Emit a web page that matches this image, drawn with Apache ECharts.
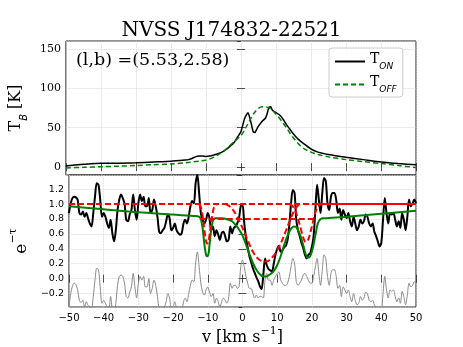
<!DOCTYPE html>
<html>
<head>
<meta charset="utf-8">
<script src="https://cdn.jsdelivr.net/npm/echarts@6/dist/echarts.min.js"></script>
<style>
  html, body { margin: 0; padding: 0; background: #fff; }
  #main { width: 463px; height: 347px; }
</style>
</head>
<body>
<div id="main"></div>
<script>
// emission spectrum (top panel)
var vOn = [-50, -45, -40, -35, -30, -25, -20, -16, -15, -14, -13, -12, -11, -10, -9, -8, -6, -5, -4, -3, -2, -1, 0, 0.5, 1, 1.5, 2, 2.5, 3, 3.5, 4, 4.5, 5, 6, 7, 7.5, 8, 8.5, 9, 10, 11, 12, 13, 14, 15, 16, 17, 18, 20, 22, 25, 30, 35, 40, 45, 50];
var tOn = [1.5, 3.5, 5, 5, 5.5, 6.5, 7.5, 9, 9.5, 11, 13, 14, 14, 13.5, 14, 15, 18, 20, 23, 27, 31, 38, 45, 53, 61, 66, 69, 63, 54, 45, 44, 48, 52, 58, 62, 68, 76, 76.5, 72, 69, 66.5, 61, 54, 48, 42, 37, 33, 29.5, 23, 19, 16, 12.5, 9.5, 6.5, 4.5, 3];
var vOff = [-50, -45, -40, -35, -30, -25, -20, -15, -12, -10, -8, -6, -4, -2, 0, 1, 2, 3, 4, 5, 6, 7, 8, 9, 10, 11, 12, 13, 14, 15, 16, 17, 18, 20, 22, 25, 30, 35, 40, 45, 50];
var tOff = [-1, -0.3, 0.5, 1.2, 2, 3, 4, 6, 7.5, 9, 12, 17, 24, 32, 40, 47, 55, 63, 70, 74.5, 76.5, 76.5, 75, 72, 67, 62, 56, 50, 43, 37, 31.5, 27, 23.5, 19, 16, 13, 9.5, 7, 4.5, 2, -0.5];

// absorption spectrum (bottom panel), channels every 0.5 km/s from -50 to 50
var chanStart = -50, chanStep = 0.5;
var expTau = [
  0.88, 1.01, 1.08, 1.10, 1.09, 1.06, 0.88, 0.86, 0.90, 0.83, 0.88, 0.81, 0.74, 0.70, 0.88, 1.10, 1.28, 1.26, 1.06, 0.83,
  0.88, 0.83, 0.74, 0.68, 0.79, 0.61, 0.50, 0.65, 0.92, 1.06, 1.13, 1.08, 1.01, 0.79, 0.77, 0.86, 0.92, 1.13, 0.92, 0.79,
  1.01, 1.13, 1.04, 1.10, 0.97, 0.97, 1.08, 0.88, 0.92, 1.06, 0.97, 0.83, 0.63, 0.61, 0.65, 0.68, 0.77, 0.86, 0.81, 0.65,
  0.68, 0.74, 0.65, 0.61, 0.59, 0.61, 0.74, 0.79, 0.74, 0.83, 0.97, 1.04, 1.01, 1.28, 1.39, 1.15, 0.88, 0.79, 0.74, 0.79,
  0.88, 0.81, 0.65, 0.70, 0.57, 0.65, 0.59, 0.52, 0.61, 0.63, 0.57, 0.50, 0.52, 0.70, 0.61, 0.68, 0.70, 0.74, 0.81, 0.97,
  0.99, 0.75, 0.55, 0.42, 0.30, 0.22, 0.14, 0.08, 0.02, -0.03, -0.10, -0.14, 0.05, 0.27, 0.18, 0.13, 0.11, 0.10, 0.20, 0.32,
  0.40, 0.44, 0.36, 0.38, 0.42, 0.44, 0.52, 0.72, 1.01, 1.19, 1.15, 0.79, 0.65, 0.57, 0.48, 0.41, 0.32, 0.27, 0.32, 0.34,
  0.43, 0.57, 0.92, 1.26, 1.06, 0.88, 1.15, 1.35, 1.31, 1.01, 0.92, 1.10, 1.15, 1.15, 1.06, 0.88, 0.94, 0.79, 0.92, 0.86,
  0.81, 0.88, 0.77, 0.70, 0.83, 0.74, 0.65, 0.70, 0.79, 0.74, 0.77, 0.86, 0.83, 0.74, 0.70, 0.74, 0.63, 0.57, 0.50, 0.43,
  0.48, 0.79, 1.08, 0.88, 0.74, 0.88, 0.86, 0.88, 0.79, 0.70, 0.77, 0.68, 0.88, 0.79, 0.65, 0.83, 1.06, 0.97, 1.01, 1.06,
  1.01
];
var resid = [
  -0.38, -0.20, -0.10, -0.06, -0.08, -0.15, -0.29, -0.32, -0.29, -0.38, -0.31, -0.36, -0.38, -0.40, -0.24, -0.02, 0.14, 0.12, -0.11, -0.33,
  -0.29, -0.33, -0.38, -0.40, -0.24, -0.42, -0.47, -0.33, -0.09, 0.03, 0.05, 0.03, -0.06, -0.24, -0.26, -0.18, -0.11, 0.07, -0.11, -0.26,
  -0.06, 0.03, -0.02, 0.03, -0.11, -0.11, 0.00, -0.20, -0.13, -0.02, -0.09, -0.24, -0.42, -0.47, -0.42, -0.38, -0.31, -0.20, -0.26, -0.40,
  -0.38, -0.31, -0.40, -0.44, -0.47, -0.44, -0.31, -0.26, -0.31, -0.20, -0.09, -0.02, -0.04, 0.21, 0.36, 0.16, -0.06, -0.18, -0.22, -0.15,
  -0.11, -0.18, -0.24, -0.20, -0.33, -0.26, -0.31, -0.38, -0.31, -0.26, -0.29, -0.33, -0.26, -0.06, -0.13, -0.09, -0.09, -0.13, -0.11, 0.16,
  0.25, 0.16, 0.03, -0.06, -0.13, -0.13, -0.20, -0.26, -0.22, -0.26, -0.24, -0.24, -0.26, -0.02, 0.07, -0.02, -0.02, -0.09, -0.02, 0.03,
  0.07, 0.09, -0.02, -0.06, -0.09, -0.09, -0.06, 0.03, 0.16, 0.27, 0.21, -0.04, -0.09, -0.06, -0.02, 0.05, 0.07, 0.03, -0.02, -0.06,
  -0.06, 0.03, 0.16, 0.27, 0.07, -0.09, 0.12, 0.32, 0.27, 0.03, -0.09, 0.07, 0.12, 0.12, 0.03, -0.13, -0.09, -0.24, -0.11, -0.15,
  -0.20, -0.15, -0.24, -0.31, -0.20, -0.29, -0.35, -0.33, -0.24, -0.29, -0.26, -0.18, -0.20, -0.29, -0.31, -0.29, -0.35, -0.40, -0.47, -0.51,
  -0.47, -0.20, 0.03, -0.15, -0.26, -0.15, -0.17, -0.15, -0.24, -0.31, -0.26, -0.33, -0.17, -0.24, -0.35, -0.22, -0.06, -0.11, -0.09, -0.04,
  -0.06
];

// total Gaussian fit (green)
var vFit = [-50, -40, -30, -20, -14, -12.5, -12, -11.5, -11, -10.5, -10.2, -9.8, -9.5, -9, -8.5, -8, -6, -4, -3, -2, -1, 0, 1, 2, 3, 4, 5, 6, 7, 8, 9, 10, 11, 12, 13, 14, 14.8, 15.5, 16.5, 17.5, 18.2, 18.8, 19.5, 20.2, 21, 21.7, 22.5, 23.5, 30, 40, 50];
var fitVals = [0.97, 0.93, 0.89, 0.86, 0.84, 0.83, 0.80, 0.68, 0.47, 0.32, 0.30, 0.33, 0.45, 0.66, 0.78, 0.81, 0.81, 0.79, 0.77, 0.72, 0.66, 0.58, 0.46, 0.33, 0.21, 0.12, 0.06, 0.03, 0.03, 0.06, 0.10, 0.18, 0.30, 0.45, 0.58, 0.67, 0.70, 0.69, 0.60, 0.45, 0.33, 0.28, 0.30, 0.40, 0.58, 0.74, 0.80, 0.81, 0.83, 0.87, 0.91];

// single components (red dashed)
var vComp1 = [-12.5, -12, -11.5, -11, -10.5, -10.2, -9.8, -9.3, -8.8, -8.3, -7.7, -7];
var comp1 = [1.0, 0.96, 0.85, 0.66, 0.50, 0.47, 0.50, 0.65, 0.82, 0.94, 0.99, 1.0];
var vComp2 = [-5, -4, -3, -2, -1, 0, 1, 2, 3, 4, 5, 6, 7, 8, 9, 10, 11, 12, 13, 14, 15, 16, 17];
var comp2 = [1.0, 0.98, 0.94, 0.87, 0.78, 0.68, 0.57, 0.46, 0.36, 0.29, 0.25, 0.23, 0.23, 0.26, 0.31, 0.38, 0.47, 0.58, 0.70, 0.82, 0.92, 0.98, 1.0];
var vComp3 = [13.5, 14.5, 15.5, 16.5, 17.5, 18.2, 19, 20, 21, 22, 23];
var comp3 = [1.0, 0.97, 0.88, 0.72, 0.55, 0.49, 0.53, 0.70, 0.89, 0.98, 1.0];
var vShelf = [-12.3, 20.9];
var shelf = [0.8, 0.8];
var vUnity = [-50, 50];
var unity = [1.0, 1.0];
var vUnitySolid = [20.5, 50];

var titleText = 'NVSS J174832-22521';
var posText = '(l,b) =(5.53,2.58)';

function zip(xs, ys) {
  return xs.map(function (x, i) { return [x, ys[i]]; });
}
var chanData = function (vals) {
  return vals.map(function (y, i) { return [chanStart + i * chanStep, y]; });
};
function minusFmt(s) { return s.replace('-', '\u2212'); }

var grid = { color: '#cfcfcf', type: 'dotted', width: 0.8 };
var tick = { inside: true, length: 4, lineStyle: { color: '#222', width: 0.8 } };

function xAx(gi, pos, labels) {
  return {
    type: 'value', gridIndex: gi, position: pos, min: -50, max: 50, interval: 10,
    axisLine: { show: false }, axisTick: tick,
    splitLine: { show: pos === 'bottom', lineStyle: grid },
    axisLabel: {
      show: labels, margin: 6, color: '#000', fontFamily: 'DejaVu Sans', fontSize: 10,
      formatter: function (v) { return minusFmt(String(v)); }
    },
    name: labels ? '{m|v [km s}{p|\u22121}{m|]}' : '',
    nameLocation: 'middle', nameGap: 19,
    nameTextStyle: {
      rich: {
        m: { fontFamily: 'DejaVu Serif', fontSize: 16, color: '#000', verticalAlign: 'bottom', lineHeight: 20 },
        p: { fontFamily: 'DejaVu Serif', fontSize: 11, color: '#000', verticalAlign: 'top', lineHeight: 20 }
      }
    }
  };
}

var chart = echarts.init(document.getElementById('main'), null, { renderer: 'canvas' });
var option = {
  animation: false,
  backgroundColor: '#fff',
  title: {
    text: titleText, left: 'center', top: 16,
    textStyle: { fontFamily: 'DejaVu Serif', fontSize: 20, fontWeight: 'normal', color: '#000' }
  },
  grid: [
    { left: 58, top: 41, width: 358, height: 134, show: true, borderColor: '#222', borderWidth: 1, backgroundColor: 'transparent' },
    { left: 58, top: 175, width: 358, height: 132, show: true, borderColor: '#222', borderWidth: 1, backgroundColor: 'transparent' }
  ],
  legend: {
    data: ['TON', 'TOFF'], orient: 'vertical', left: 329, top: 48,
    itemWidth: 30, itemHeight: 12, itemGap: 4, padding: [4, 6, 3, 5],
    itemStyle: { opacity: 0 },
    backgroundColor: 'rgba(255,255,255,0.85)', borderColor: '#cccccc', borderWidth: 1, borderRadius: 3,
    formatter: function (n) { return n === 'TON' ? '{m|T}{s|ON}' : '{m|T}{s|OFF}'; },
    textStyle: {
      rich: {
        m: { fontFamily: 'DejaVu Serif', fontSize: 14, color: '#000', verticalAlign: 'top', lineHeight: 19 },
        s: { fontFamily: 'DejaVu Sans', fontStyle: 'italic', fontSize: 9, color: '#000', verticalAlign: 'bottom', lineHeight: 19 }
      }
    }
  },
  graphic: [
    { type: 'text', left: 76, top: 51, style: { text: posText, font: '17.5px "DejaVu Serif"', fill: '#000' } }
  ],
  xAxis: [xAx(0, 'bottom', false), xAx(0, 'top', false), xAx(1, 'bottom', true), xAx(1, 'top', false)],
  yAxis: [
    {
      type: 'value', gridIndex: 0, position: 'left', min: -10, max: 160, splitNumber: 4,
      axisLine: { show: false }, axisTick: tick, splitLine: { show: true, lineStyle: grid },
      axisLabel: { margin: 5, color: '#000', fontFamily: 'DejaVu Serif', fontSize: 11, showMinLabel: false, showMaxLabel: false },
      name: '{m|T}{s|B}{m| [K]}', nameLocation: 'middle', nameGap: 29, nameRotate: 90,
      nameTextStyle: {
        rich: {
          m: { fontFamily: 'DejaVu Serif', fontSize: 16, color: '#000', verticalAlign: 'top', lineHeight: 21 },
          s: { fontFamily: 'DejaVu Sans', fontStyle: 'italic', fontSize: 10, color: '#000', verticalAlign: 'bottom', lineHeight: 21 }
        }
      }
    },
    {
      type: 'value', gridIndex: 0, position: 'right', min: -10, max: 160, splitNumber: 4,
      axisLine: { show: false }, axisTick: tick, splitLine: { show: false }, axisLabel: { show: false }
    },
    {
      type: 'value', gridIndex: 1, position: 'left', min: -0.38, max: 1.39, splitNumber: 8,
      axisLine: { show: false }, axisTick: tick, splitLine: { show: true, lineStyle: grid },
      axisLabel: {
        margin: 5, color: '#000', fontFamily: 'DejaVu Sans', fontSize: 9.5, showMinLabel: false, showMaxLabel: false,
        formatter: function (v) { return minusFmt(v.toFixed(1)); }
      },
      name: '{m|e}{p|\u2212\u03c4}', nameLocation: 'middle', nameGap: 31, nameRotate: 90,
      nameTextStyle: {
        rich: {
          m: { fontFamily: 'DejaVu Serif', fontSize: 17, color: '#000', verticalAlign: 'bottom', lineHeight: 22 },
          p: { fontFamily: 'DejaVu Serif', fontSize: 11, color: '#000', verticalAlign: 'top', lineHeight: 22 }
        }
      }
    },
    {
      type: 'value', gridIndex: 1, position: 'right', min: -0.38, max: 1.39, splitNumber: 8,
      axisLine: { show: false }, axisTick: tick, splitLine: { show: false }, axisLabel: { show: false }
    }
  ],
  series: [
    {
      name: 'TON', type: 'line', xAxisIndex: 0, yAxisIndex: 0, data: zip(vOn, tOn),
      symbol: 'none', smooth: 0.2, lineStyle: { color: '#000', width: 1.5 }, itemStyle: { color: '#000' }
    },
    {
      name: 'TOFF', type: 'line', xAxisIndex: 0, yAxisIndex: 0, data: zip(vOff, tOff),
      symbol: 'none', smooth: 0.3, lineStyle: { color: '#008000', width: 1.5, type: [5, 3] }, itemStyle: { color: '#008000' }
    },
    {
      name: 'resid', type: 'line', xAxisIndex: 2, yAxisIndex: 2, data: chanData(resid),
      symbol: 'none', smooth: 0.3, lineStyle: { color: '#8a8a8a', width: 1 }
    },
    {
      name: 'etau', type: 'line', xAxisIndex: 2, yAxisIndex: 2, data: chanData(expTau),
      symbol: 'none', smooth: 0.3, lineStyle: { color: '#000', width: 2 }
    },
    {
      name: 'fit', type: 'line', xAxisIndex: 2, yAxisIndex: 2, data: zip(vFit, fitVals),
      symbol: 'none', smooth: 0.3, lineStyle: { color: '#008000', width: 2 }
    },
    {
      name: 'c0', type: 'line', xAxisIndex: 2, yAxisIndex: 2, data: zip(vUnity, unity),
      symbol: 'none', lineStyle: { color: '#ff0000', width: 2, type: [6, 3] }
    },
    {
      name: 'c0s', type: 'line', xAxisIndex: 2, yAxisIndex: 2, data: zip(vUnitySolid, unity),
      symbol: 'none', lineStyle: { color: '#ff0000', width: 2 }
    },
    {
      name: 'c1', type: 'line', xAxisIndex: 2, yAxisIndex: 2, data: zip(vComp1, comp1),
      symbol: 'none', smooth: 0.3, lineStyle: { color: '#ff0000', width: 2, type: [6, 3] }
    },
    {
      name: 'c2', type: 'line', xAxisIndex: 2, yAxisIndex: 2, data: zip(vComp2, comp2),
      symbol: 'none', smooth: 0.3, lineStyle: { color: '#ff0000', width: 2, type: [6, 3] }
    },
    {
      name: 'c3', type: 'line', xAxisIndex: 2, yAxisIndex: 2, data: zip(vComp3, comp3),
      symbol: 'none', smooth: 0.3, lineStyle: { color: '#ff0000', width: 2, type: [6, 3] }
    },
    {
      name: 'c4', type: 'line', xAxisIndex: 2, yAxisIndex: 2, data: zip(vShelf, shelf),
      symbol: 'none', lineStyle: { color: '#ff0000', width: 2, type: [6, 3] }
    }
  ]
};
chart.setOption(option);
</script>
</body>
</html>
